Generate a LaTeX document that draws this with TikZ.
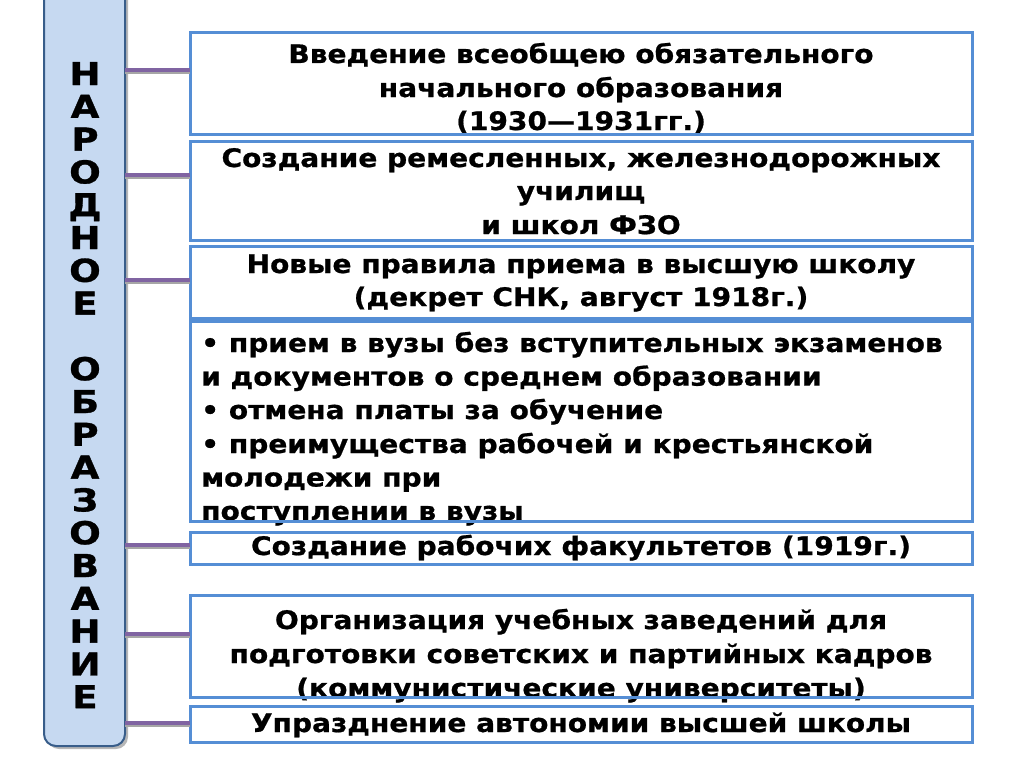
\documentclass[tikz,border=0pt]{standalone}
\usepackage{fontspec}
\usetikzlibrary{shadows}
\newfontfamily\bodyfont[FakeStretch=1.1,FakeBold=0.8]{DejaVu Sans Bold}
\newfontfamily\colfont[FakeStretch=1.18,FakeBold=1]{DejaVu Sans Bold}
\definecolor{boxblue}{RGB}{85,142,213}
\definecolor{barfill}{RGB}{198,217,241}
\definecolor{barline}{RGB}{56,93,138}
\definecolor{conpurple}{RGB}{128,100,162}
\tikzset{
  txt/.style={anchor=base, inner sep=0pt, font=\bodyfont\fontsize{25.5}{33.5}\selectfont},
  ltxt/.style={txt, anchor=base west},
  letter/.style={anchor=base, inner sep=0pt, font=\colfont\fontsize{31.5}{33}\selectfont},
  item/.style={draw=boxblue, line width=3pt, rectangle, inner sep=0pt, outer sep=0pt, minimum width=782pt},
  connshadow/.style={draw=black!35, line width=4pt},
  conn/.style={draw=conpurple, line width=4pt},
}
\begin{document}
\begin{tikzpicture}[x=1pt,y=-1pt]
\useasboundingbox (0,0) rectangle (1024,768);
% left bar
\node[fill=barfill, draw=barline, line width=2pt, rounded corners=12pt, minimum width=81pt, minimum height=766pt, inner sep=0pt, outer sep=0pt,
  drop shadow={shadow xshift=3pt, shadow yshift=-3pt, fill=black!40, opacity=0.7}] (bar) at (84.5,363) {};
\foreach \l [count=\i from 0] in {Н,А,Р,О,Д,Н,О,Е,{},О,Б,Р,А,З,О,В,А,Н,И,Е}
  \node[letter] (L\i) at (85,{85+\i*32.8}) {\l};
% texts
\node[txt] (t11) at (581,63) {Введение всеобщею обязательного};
\node[txt] (t12) at (581,97) {начального образования};
\node[txt] (t13) at (581,130) {(1930—1931гг.)};
\node[txt] (t21) at (581,167) {Создание ремесленных, железнодорожных};
\node[txt] (t22) at (581,200) {училищ};
\node[txt] (t23) at (581,234) {и школ ФЗО};
\node[txt] (t31) at (581,273) {Новые правила приема в высшую школу};
\node[txt] (t32) at (581,306) {(декрет СНК, август 1918г.)};
\node[ltxt] (t41) at (201,352) {• прием в вузы без вступительных экзаменов};
\node[ltxt] (t42) at (201,385.6) {и документов о среднем образовании};
\node[ltxt] (t43) at (201,419) {• отмена платы за обучение};
\node[ltxt] (t44) at (201,453) {• преимущества рабочей и крестьянской};
\node[ltxt] (t45) at (201,486.5) {молодежи при};
\node[ltxt] (t46) at (201,520) {поступлении в вузы};
\node[txt] (t51) at (581,555) {Создание рабочих факультетов (1919г.)};
\node[txt] (t61) at (581,629) {Организация учебных заведений для};
\node[txt] (t62) at (581,663) {подготовки советских и партийных кадров};
\node[txt] (t63) at (581,697) {(коммунистические университеты)};
\node[txt] (t71) at (581,732) {Упразднение автономии высшей школы};
% boxes
\node[item, minimum height=101pt] (b1) at (581,83.5) {};
\node[item, minimum height=99pt] (b2) at (581,190.5) {};
\node[item, minimum height=72pt] (b3) at (581,282) {};
\node[item, minimum height=200pt] (b4) at (581,421) {};
\node[item, minimum height=32pt] (b5) at (581,548) {};
\node[item, minimum height=102pt] (b6) at (581,646) {};
\node[item, minimum height=36pt] (b7) at (581,724) {};
% connectors
\coordinate (p1) at (125,70);
\coordinate (p2) at (125,175);
\coordinate (p3) at (125,280);
\coordinate (p4) at (125,545);
\coordinate (p5) at (125,634);
\coordinate (p6) at (125,723);
\foreach \p/\b in {p1/b1,p2/b2,p3/b3,p4/b5,p5/b6,p6/b7}{
  \draw[connshadow] ([yshift=-1.5pt]\p) -- ([yshift=-1.5pt]\p -| \b.west);
  \draw[conn] (\p) -- (\p -| \b.west);
}
\end{tikzpicture}
\end{document}
